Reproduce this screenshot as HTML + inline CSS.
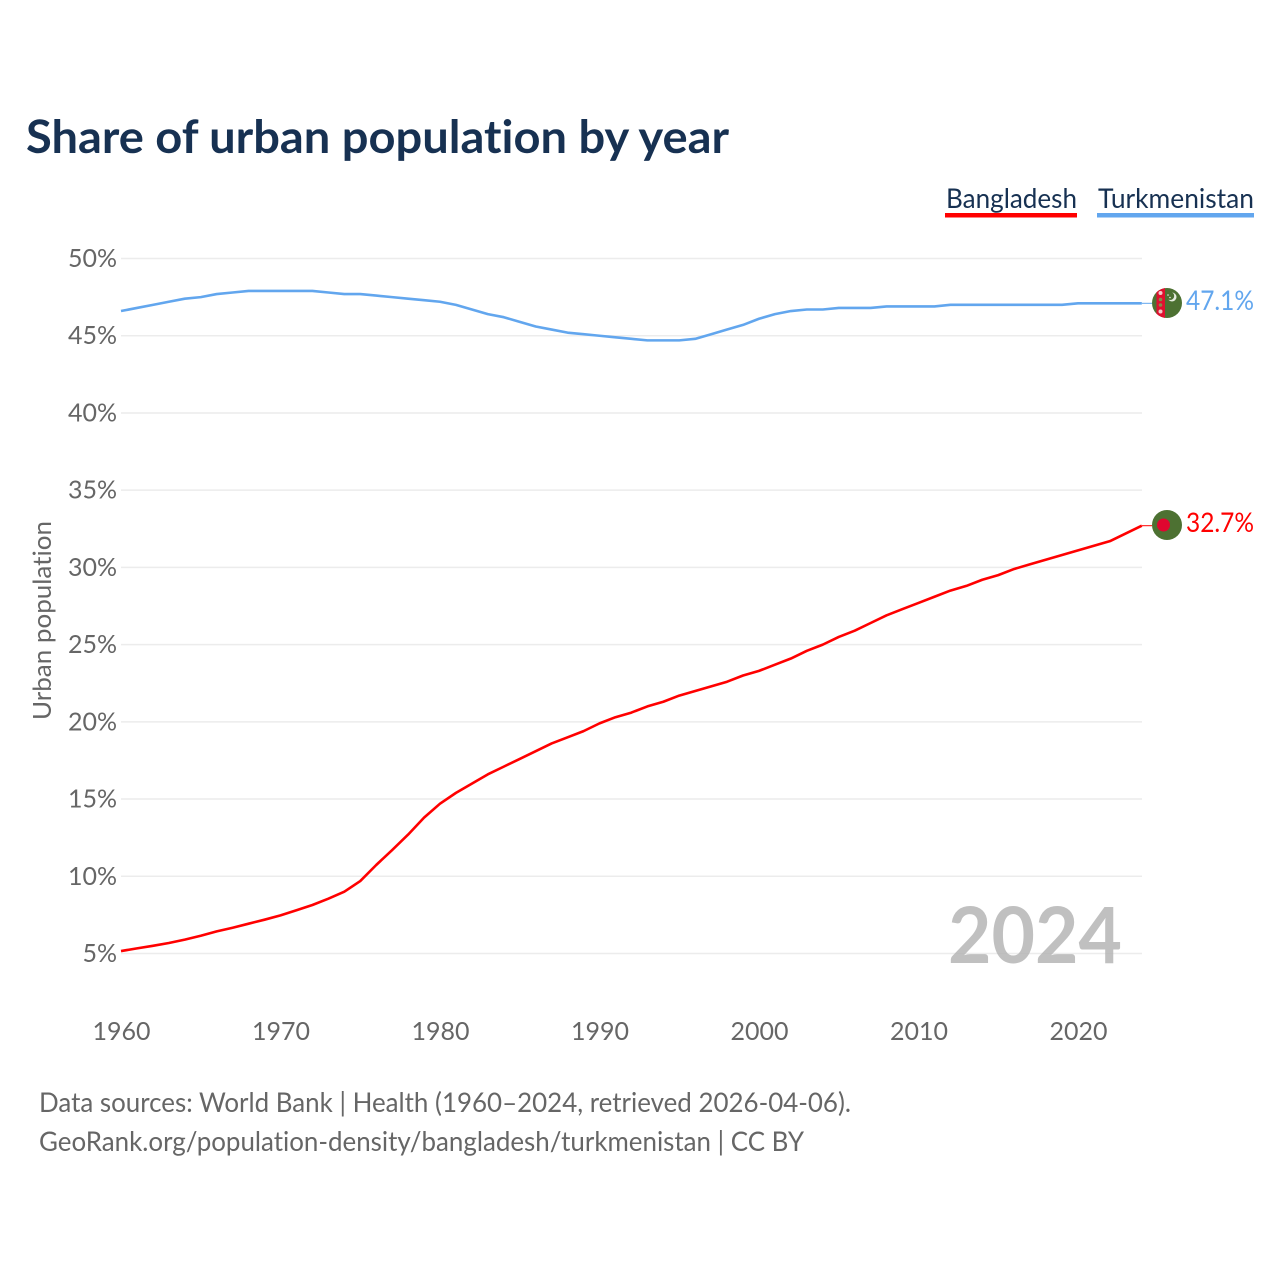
<!DOCTYPE html>
<html lang="en">
<head>
<meta charset="utf-8">
<title>Share of urban population by year</title>
<style>
html,body{margin:0;padding:0;background:#fff;}
svg{display:block;}
text{font-family:"Lato","Carlito","Liberation Sans",sans-serif;font-variant-ligatures:none;}
</style>
</head>
<body>
<svg id="chart" xmlns="http://www.w3.org/2000/svg" width="1280" height="1280" viewBox="0 0 1280 1280">
  <defs>
    <clipPath id="tm-clip"><circle cx="1167" cy="303" r="15"/></clipPath>
    <clipPath id="bd-clip"><circle cx="1167" cy="525" r="15"/></clipPath>
  </defs>
  <rect x="0" y="0" width="1280" height="1280" fill="#fff"/>
  <text x="26" y="153" font-size="46" font-weight="700" fill="#173152" textLength="703" lengthAdjust="spacingAndGlyphs">Share of urban population by year</text>

  <g id="grid"></g>
  <g id="y-ticks"></g>
  <g id="x-ticks"></g>
  <text transform="translate(51,720) rotate(-90)" font-size="25" fill="#666" textLength="199" lengthAdjust="spacingAndGlyphs">Urban population</text>

  <text x="948" y="963" font-size="78" font-weight="700" fill="#b5b5b5" fill-opacity="0.85" textLength="174" lengthAdjust="spacingAndGlyphs">2024</text>

  <g id="series"></g>

  <g>
    <text x="946" y="208" font-size="27" fill="#173152" textLength="131" lengthAdjust="spacingAndGlyphs">Bangladesh</text>
    <rect x="945" y="213" width="132" height="4.5" fill="#ff0000"/>
  </g>
  <g>
    <text x="1098" y="208" font-size="27" fill="#173152" textLength="156" lengthAdjust="spacingAndGlyphs">Turkmenistan</text>
    <rect x="1097" y="213" width="157" height="4.5" fill="#62a6ee"/>
  </g>

  <g clip-path="url(#tm-clip)">
    <rect x="1150" y="286" width="34" height="34" fill="#4d7132"/>
    <rect x="1156.5" y="286" width="8.5" height="34" fill="#e0102f"/>
    <circle cx="1160.5" cy="293" r="2" fill="#f3c9c9"/>
    <circle cx="1160.5" cy="299.5" r="1.8" fill="#8a8a4a"/>
    <circle cx="1160.5" cy="305" r="1.8" fill="#8a8a4a"/>
    <circle cx="1160.5" cy="311.5" r="2" fill="#f3c9c9"/>
    <circle cx="1172" cy="297" r="4.5" fill="#e6ecdf"/>
    <circle cx="1170.2" cy="296" r="4" fill="#4d7132"/>
    <circle cx="1168" cy="295" r="0.8" fill="#e6ecdf"/>
    <circle cx="1170" cy="297.5" r="0.8" fill="#e6ecdf"/>
  </g>
  <g clip-path="url(#bd-clip)">
    <rect x="1150" y="508" width="34" height="34" fill="#4d7132"/>
    <circle cx="1163.5" cy="525" r="6.5" fill="#e0062f"/>
  </g>

  <text x="1186" y="310" font-size="27" fill="#62a6ee" textLength="68" lengthAdjust="spacingAndGlyphs">47.1%</text>
  <text x="1186" y="532" font-size="27" fill="#ff0000" textLength="68" lengthAdjust="spacingAndGlyphs">32.7%</text>

  <text x="39" y="1112" font-size="27" fill="#666" textLength="812" lengthAdjust="spacingAndGlyphs">Data sources: World Bank | Health (1960–2024, retrieved 2026-04-06).</text>
  <text x="39" y="1151" font-size="27" fill="#666" textLength="765" lengthAdjust="spacingAndGlyphs">GeoRank.org/population-density/bangladesh/turkmenistan | CC BY</text>
</svg>
<script>
const startYear = 1960;
const yTickValues = [5, 10, 15, 20, 25, 30, 35, 40, 45, 50];
const xTickValues = [1960, 1970, 1980, 1990, 2000, 2010, 2020];
const bangladesh = [5.16,5.33,5.5,5.68,5.9,6.15,6.43,6.67,6.93,7.19,7.47,7.8,8.14,8.55,9.0,9.69,10.73,11.7,12.7,13.8,14.7,15.4,16.0,16.6,17.1,17.6,18.1,18.6,19.0,19.4,19.9,20.3,20.6,21.0,21.3,21.7,22.0,22.3,22.6,23.0,23.3,23.7,24.1,24.6,25.0,25.5,25.9,26.4,26.9,27.3,27.7,28.1,28.5,28.8,29.2,29.5,29.9,30.2,30.5,30.8,31.1,31.4,31.7,32.2,32.7];
const turkmenistan = [46.6,46.8,47.0,47.2,47.4,47.5,47.7,47.8,47.9,47.9,47.9,47.9,47.9,47.8,47.7,47.7,47.6,47.5,47.4,47.3,47.2,47.0,46.7,46.4,46.2,45.9,45.6,45.4,45.2,45.1,45.0,44.9,44.8,44.7,44.7,44.7,44.8,45.1,45.4,45.7,46.1,46.4,46.6,46.7,46.7,46.8,46.8,46.8,46.9,46.9,46.9,46.9,47.0,47.0,47.0,47.0,47.0,47.0,47.0,47.0,47.1,47.1,47.1,47.1,47.1];

const NS = 'http://www.w3.org/2000/svg';
const xScale = function (year) { return 121 + (year - 1960) * 15.95; };
const yScale = function (value) { return 953.5 - (value - 5) * 15.444; };

function make(tag, attrs, parent) {
  const el = document.createElementNS(NS, tag);
  for (const k in attrs) el.setAttribute(k, attrs[k]);
  parent.appendChild(el);
  return el;
}

const gridG = document.getElementById('grid');
const yG = document.getElementById('y-ticks');
const xG = document.getElementById('x-ticks');
const seriesG = document.getElementById('series');

yTickValues.forEach(function (v) {
  const line = make('line', {x1: 121, x2: 1142, y1: yScale(v), y2: yScale(v), stroke: '#ececec', 'stroke-width': 1.5}, gridG);
  
  
  const t = make('text', {x: 117, y: yScale(v) + 8.5, 'text-anchor': 'end', 'font-size': 25, fill: '#666'}, yG);
  
  
  t.textContent = v + '%';
});

xTickValues.forEach(function (y) {
  const t = make('text', {x: xScale(y) + 0.5, y: 1040, 'text-anchor': 'middle', 'font-size': 25, fill: '#666'}, xG);
  
  
  t.textContent = y;
});

function pathFor(values) {
  return values.map(function (v, i) {
    return (i ? 'L' : 'M') + xScale(startYear + i).toFixed(2) + ' ' + yScale(v).toFixed(2);
  }).join(' ');
}

const lineTm = make('path', {d: pathFor(turkmenistan), fill: 'none', stroke: '#62a6ee', 'stroke-width': 2.6, 'stroke-linejoin': 'round'}, seriesG);


const lineBd = make('path', {d: pathFor(bangladesh), fill: 'none', stroke: '#ff0000', 'stroke-width': 2.6, 'stroke-linejoin': 'round'}, seriesG);



const endTm = turkmenistan[turkmenistan.length - 1];
const endBd = bangladesh[bangladesh.length - 1];
const endX = xScale(startYear + turkmenistan.length - 1);
const leaderTm = make('line', {x1: endX, x2: 1152, y1: yScale(endTm), y2: yScale(endTm), stroke: '#62a6ee', 'stroke-width': 1}, seriesG);


const leaderBd = make('line', {x1: endX, x2: 1152, y1: yScale(endBd), y2: yScale(endBd), stroke: '#ff0000', 'stroke-width': 1}, seriesG);


</script>
</body>
</html>
